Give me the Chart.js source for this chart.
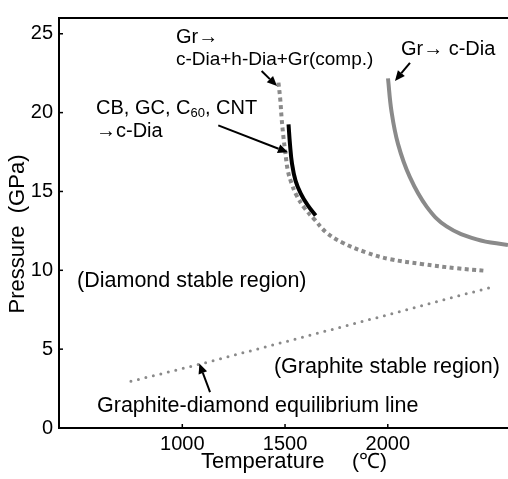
<!DOCTYPE html>
<html>
<head>
<meta charset="utf-8">
<script src="https://cdn.jsdelivr.net/npm/chart.js@4.4.1/dist/chart.umd.min.js"></script>
<style>
  html, body { margin: 0; padding: 0; background: #fff; }
  #wrap { width: 508px; height: 479px; }
</style>
</head>
<body>
<div id="wrap"><canvas id="chart"></canvas></div>
<script>
// Axis ranges and ticks
const xTicks = [1000, 1500, 2000];
const yTicks = [0, 5, 10, 15, 20, 25];
const xRange = [400, 2585];
const yRange = [0, 26];

// Curves: [temperature (°C), pressure (GPa)]
const compCurve = [[1468, 21.9], [1477, 20.8], [1483, 19.7], [1491, 18.6], [1501, 17.5], [1514, 16.3],
  [1532, 15.5], [1556, 14.75], [1595, 13.94], [1644, 13.21], [1701, 12.4], [1780, 11.75],
  [1896, 11.13], [2010, 10.71], [2171, 10.39], [2335, 10.13], [2465, 9.98]];
const carbonCurve = [[1517, 19.25], [1524, 18.0], [1534, 16.75], [1551, 15.69], [1576, 14.88],
  [1610, 14.13], [1649, 13.47]];
const graphiteCurve = [[2001, 22.17], [2018, 20.08], [2050, 18.0], [2107, 15.92], [2189, 14.04],
  [2286, 12.79], [2433, 11.96], [2585, 11.6]];
const equilibriumLine = [[750, 2.96], [1083, 4.04], [1571, 5.71], [2059, 7.38], [2506, 8.94]];

// Annotations (data coordinates)
const labels = [
  { text: 'Gr→', x: 969, y: 24.75, size: 20 },
  { text: 'c-Dia+h-Dia+Gr(comp.)', x: 969, y: 23.37, size: 19 },
  { text: '→c-Dia', x: 580, y: 18.8, size: 20 },
  { text: 'Gr→ c-Dia', x: 2064, y: 24.0, size: 20 },
  { text: '(Diamond stable region)', x: 488, y: 9.34, size: 21.5 },
  { text: '(Graphite stable region)', x: 1446, y: 3.88, size: 21.5 },
  { text: 'Graphite-diamond equilibrium line', x: 585, y: 1.38, size: 21.5 }
];
const arrows = [
  { from: [1386, 22.64], to: [1461, 21.68] },
  { from: [1175, 19.19], to: [1514, 17.48] },
  { from: [2108, 23.16], to: [2035, 22.01] },
  { from: [1135, 2.27], to: [1083, 4.09] }
];

const FONT = '"Liberation Sans", Arial, sans-serif';
const GRAY = '#8a8a8a';

function toPoints(arr) {
  return arr.map(p => ({ x: p[0], y: p[1] }));
}

function drawArrow(ctx, x1, y1, x2, y2) {
  const ang = Math.atan2(y2 - y1, x2 - x1);
  const len = 10, half = 4.5;
  const bx = x2 - len * Math.cos(ang), by = y2 - len * Math.sin(ang);
  ctx.beginPath();
  ctx.moveTo(x1, y1);
  ctx.lineTo(bx, by);
  ctx.stroke();
  ctx.beginPath();
  ctx.moveTo(x2, y2);
  ctx.lineTo(bx + half * Math.sin(ang), by - half * Math.cos(ang));
  ctx.lineTo(bx - half * Math.sin(ang), by + half * Math.cos(ang));
  ctx.closePath();
  ctx.fill();
}

const overlay = {
  id: 'overlay',
  afterDraw(chart) {
    const { ctx, chartArea } = chart;
    const x = chart.scales.x, y = chart.scales.y;
    ctx.save();
    ctx.strokeStyle = '#000';
    ctx.fillStyle = '#000';

    // top frame line
    ctx.lineWidth = 2;
    ctx.beginPath();
    ctx.moveTo(chartArea.left, chartArea.top);
    ctx.lineTo(chartArea.right, chartArea.top);
    ctx.stroke();

    // inward tick marks
    ctx.lineWidth = 1.5;
    xTicks.forEach(v => {
      const px = x.getPixelForValue(v);
      ctx.beginPath();
      ctx.moveTo(px, chartArea.bottom);
      ctx.lineTo(px, chartArea.bottom - 4);
      ctx.stroke();
    });
    yTicks.forEach(v => {
      const py = y.getPixelForValue(v);
      ctx.beginPath();
      ctx.moveTo(chartArea.left, py);
      ctx.lineTo(chartArea.left + 4, py);
      ctx.stroke();
    });

    // text labels
    ctx.textBaseline = 'middle';
    ctx.textAlign = 'left';
    labels.forEach(l => {
      ctx.font = l.size + 'px ' + FONT;
      ctx.fillText(l.text, x.getPixelForValue(l.x), y.getPixelForValue(l.y));
    });

    // "CB, GC, C60, CNT" with subscript
    let cx = x.getPixelForValue(580);
    const cy = y.getPixelForValue(20.24);
    ctx.font = '20px ' + FONT;
    ctx.fillText('CB, GC, C', cx, cy);
    cx += ctx.measureText('CB, GC, C').width;
    ctx.font = '13px ' + FONT;
    ctx.fillText('60', cx, cy + 5);
    cx += ctx.measureText('60').width;
    ctx.font = '20px ' + FONT;
    ctx.fillText(', CNT', cx, cy);

    // arrows
    ctx.lineWidth = 2;
    arrows.forEach(a => {
      drawArrow(ctx,
        x.getPixelForValue(a.from[0]), y.getPixelForValue(a.from[1]),
        x.getPixelForValue(a.to[0]), y.getPixelForValue(a.to[1]));
    });

    // axis titles
    ctx.font = '22px ' + FONT;
    ctx.textAlign = 'left';
    ctx.fillText('Temperature', 201, 462);
    ctx.font = '21px ' + FONT;
    ctx.fillText('(℃)', 352, 462);

    ctx.font = '22px ' + FONT;
    ctx.translate(18, 234);
    ctx.rotate(-Math.PI / 2);
    ctx.textAlign = 'center';
    ctx.fillText('Pressure  (GPa)', 0, 0);
    ctx.restore();
  }
};

const ctx = document.getElementById('chart').getContext('2d');
new Chart(ctx, {
  type: 'scatter',
  data: {
    datasets: [
      {
        data: toPoints(equilibriumLine),
        showLine: true,
        borderColor: GRAY,
        borderWidth: 3,
        borderDash: [0, 7.7],
        borderCapStyle: 'round',
        pointRadius: 0,
        tension: 0
      },
      {
        data: toPoints(compCurve),
        showLine: true,
        borderColor: GRAY,
        borderWidth: 4,
        borderDash: [4, 3.5],
        borderCapStyle: 'butt',
        pointRadius: 0,
        tension: 0.4
      },
      {
        data: toPoints(graphiteCurve),
        showLine: true,
        borderColor: GRAY,
        borderWidth: 4,
        pointRadius: 0,
        tension: 0.4
      },
      {
        data: toPoints(carbonCurve),
        showLine: true,
        borderColor: '#000',
        borderWidth: 4,
        pointRadius: 0,
        tension: 0.4
      }
    ]
  },
  options: {
    responsive: true,
    maintainAspectRatio: false,
    animation: false,
    layout: { padding: { top: 13, right: 0, left: 0, bottom: 0 } },
    plugins: { legend: { display: false }, tooltip: { enabled: false } },
    scales: {
      x: {
        type: 'linear',
        min: xRange[0],
        max: xRange[1],
        afterBuildTicks: s => { s.ticks = xTicks.map(v => ({ value: v })); },
        afterFit: s => { s.height = 51; },
        grid: { display: false, drawTicks: false },
        border: { display: true, color: '#000', width: 2 },
        ticks: {
          color: '#000', font: { size: 20, family: FONT }, padding: 4, maxRotation: 0,
          callback: v => String(v)
        }
      },
      y: {
        type: 'linear',
        min: yRange[0],
        max: yRange[1],
        afterBuildTicks: s => { s.ticks = yTicks.map(v => ({ value: v })); },
        afterFit: s => { s.width = 59; },
        grid: { display: false, drawTicks: false },
        border: { display: true, color: '#000', width: 2 },
        ticks: { color: '#000', font: { size: 20, family: FONT }, padding: 6, callback: v => String(v) }
      }
    }
  },
  plugins: [overlay]
});
</script>
</body>
</html>
